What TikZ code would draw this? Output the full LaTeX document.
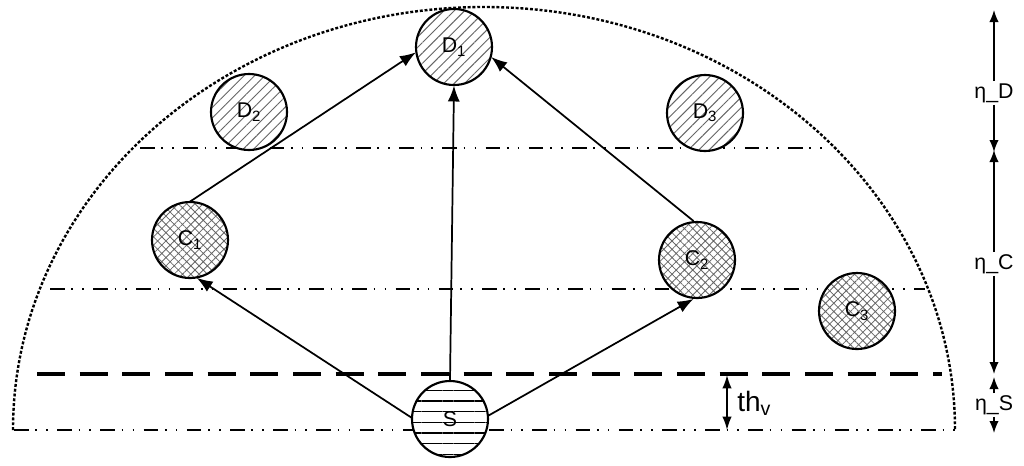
\documentclass[tikz,border=0pt]{standalone}
\usepackage{fontspec}
\setmainfont{Liberation Sans}
\usetikzlibrary{arrows.meta,patterns.meta}
\begin{document}
\begin{tikzpicture}[x=0.75pt,y=-0.75pt,
  ball/.style={circle,draw,line width=1.6pt,inner sep=0pt,minimum size=57pt,preaction={fill=white},font=\fontsize{16}{18}\selectfont},
  dball/.style={ball,pattern={Lines[angle=45,distance=5.5pt,line width=0.7pt]},pattern color=black!60},
  cball/.style={ball,pattern={Hatch[angle=45,distance=4.4pt,line width=0.6pt]},pattern color=black!60},
  sball/.style={ball,pattern={Lines[angle=0,distance=8pt,line width=0.8pt]},pattern color=black},
  arr/.style={line width=1.3pt,-{Latex[length=12pt,width=9pt]}},
  sarr/.style={line width=1pt,-{Latex[length=9pt,width=7pt]}},
  ddot/.style={line width=1.3pt,dash pattern=on 11pt off 5pt on 1.2pt off 7pt on 1.2pt off 7pt},
  lab/.style={font=\fontsize{16}{18}\selectfont,inner sep=1.5pt}]
\useasboundingbox (0,0) rectangle (1024,465);
% dotted half ellipse
\draw[line width=1.8pt,dash pattern=on 2.2pt off 1.4pt] (13,430) arc[start angle=180,end angle=360,x radius=471,y radius=423];
% dash-dot-dot lines
\draw[ddot] (140,148) -- (830,148);
\draw[ddot] (50,289) -- (925,289);
\draw[ddot] (14,430) -- (955,430);
% thick dashed line
\draw[line width=2.4pt,dash pattern=on 21pt off 11pt] (37,374) -- (942,374);
% circles
\node[dball] (D1) at (454,47) {D\textsubscript{1}};
\node[dball] (D2) at (249,112) {D\textsubscript{2}};
\node[dball] (D3) at (705,113) {D\textsubscript{3}};
\node[cball] (C1) at (190,240) {C\textsubscript{1}};
\node[cball] (C2) at (697,260) {C\textsubscript{2}};
\node[cball] (C3) at (857,311) {C\textsubscript{3}};
\node[sball] (S) at (450,419) {S};
% arrows
\draw[arr] (S.178) -- (C1.-80);
\draw[arr] (S.north) -- (D1.south);
\draw[arr] (S.5) -- (C2.-95);
\draw[arr] (C1.north) -- (D1.188);
\draw[arr] (C2.95) -- (D1.-15);
% th_v
\coordinate (thT) at (727,375);
\coordinate (thB) at (727,430);
\draw[line width=1.2pt,{Latex[length=10pt,width=7pt]}-{Latex[length=10pt,width=7pt]}] (thT) -- (thB);
\node[font=\fontsize{21}{23}\selectfont,anchor=west,inner sep=0pt] (thv) at (737,403) {th\textsubscript{v}};
% right side scale
\node[lab] (eD) at (994,93) {η\_D};
\node[lab] (eC) at (994,264) {η\_C};
\node[lab] (eS) at (994,405) {η\_S};
\coordinate (t0) at (994,10);
\coordinate (t1) at (994,152);
\coordinate (t1b) at (994,150);
\coordinate (t2) at (994,374);
\coordinate (t2b) at (994,377);
\coordinate (t3) at (994,433);
\draw[sarr] (eD.north) -- (t0);
\draw[sarr] (eD.south) -- (t1);
\draw[sarr] (eC.north) -- (t1b);
\draw[sarr] (eC.south) -- (t2);
\draw[sarr] (eS.north) -- (t2b);
\draw[sarr] (eS.south) -- (t3);
\end{tikzpicture}
\end{document}
